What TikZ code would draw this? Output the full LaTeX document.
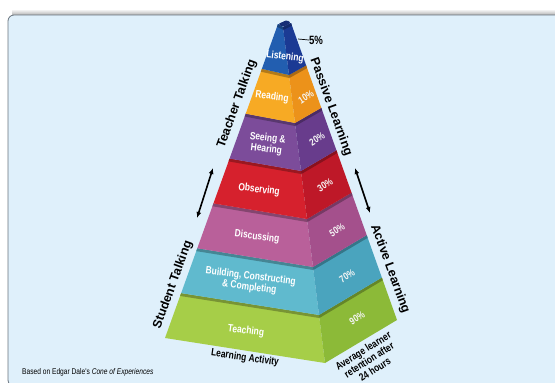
\documentclass[tikz,border=0pt]{standalone}
\usepackage{fontspec}
\setmainfont{Liberation Sans}
\newfontfamily\condfont[FakeStretch=0.8]{Liberation Sans}
\usetikzlibrary{calc,arrows.meta}

\definecolor{boxbg}{RGB}{223,240,251}
\definecolor{boxline}{RGB}{105,115,125}
\definecolor{listenF}{RGB}{34,94,176}
\definecolor{listenS}{RGB}{27,58,148}
\definecolor{readF}{RGB}{247,170,36}
\definecolor{readS}{RGB}{236,146,26}
\definecolor{seeF}{RGB}{124,76,154}
\definecolor{seeS}{RGB}{104,60,140}
\definecolor{obsF}{RGB}{214,33,45}
\definecolor{obsS}{RGB}{190,24,40}
\definecolor{discF}{RGB}{185,96,154}
\definecolor{discS}{RGB}{164,80,140}
\definecolor{buildF}{RGB}{96,186,206}
\definecolor{buildS}{RGB}{74,164,190}
\definecolor{teachF}{RGB}{166,206,72}
\definecolor{teachS}{RGB}{140,186,56}

\begin{document}
\begin{tikzpicture}[
  x=1pt, y=-1pt,
  act/.style={text=white, font=\condfont\bfseries\fontsize{10.5}{11}\selectfont, align=center, inner sep=0pt, rotate=-7},
  pct/.style={text=white!92!gray, font=\condfont\bfseries\fontsize{10}{10}\selectfont, inner sep=0pt, rotate=32},
  edgelabel/.style={font=\bfseries\fontsize{12.5}{13}\selectfont, inner sep=0pt},
  footlabel/.style={font=\condfont\bfseries\fontsize{10.5}{11}\selectfont, align=center, inner sep=0pt},
  arr/.style={{Latex[length=6pt,width=5pt]}-{Latex[length=6pt,width=5pt]}, line width=1.6pt}
]
\clip (0,0) rectangle (555,383);
% panel
\shade[top color=white, bottom color=black!30] (12,9) rectangle (555,15);
\filldraw[fill=boxbg, draw=boxline, line width=0.8pt, rounded corners=6pt] (8,15) rectangle (575,386);

% pyramid edges
\coordinate (L0) at (165,338); \coordinate (LA) at (278,24);
\coordinate (F0) at (325,363); \coordinate (FA) at (283,27);
\coordinate (R0) at (397,320); \coordinate (RA) at (291,23);

\foreach \i/\fc/\sc in {0/teachF/teachS,1/buildF/buildS,2/discF/discS,3/obsF/obsS,4/seeF/seeS,5/readF/readS,6/listenF/listenS}{
  \pgfmathsetmacro\ta{\i/7}
  \pgfmathsetmacro\tb{(\i+1)/7}
  \pgfmathsetmacro\tc{(\i+1)/7-0.009}
  \fill[fill=\fc] ($(L0)!\ta!(LA)$) -- ($(F0)!\ta!(FA)$) -- ($(F0)!\tb!(FA)$) -- ($(L0)!\tb!(LA)$) -- cycle;
  \fill[fill=\sc] ($(F0)!\ta!(FA)$) -- ($(R0)!\ta!(RA)$) -- ($(R0)!\tb!(RA)$) -- ($(F0)!\tb!(FA)$) -- cycle;
  \fill[fill=\fc!72!black] ($(L0)!\tc!(LA)$) -- ($(F0)!\tc!(FA)$) -- ($(F0)!\tb!(FA)$) -- ($(L0)!\tb!(LA)$) -- cycle;
  \fill[fill=\sc!72!black] ($(F0)!\tc!(FA)$) -- ($(R0)!\tc!(RA)$) -- ($(R0)!\tb!(RA)$) -- ($(F0)!\tb!(FA)$) -- cycle;
}
\fill[listenS!80!black, rounded corners=1.5pt] (LA) -- (FA) -- (RA) -- (287,20) -- cycle;

% activities
\node[act] (act0) at (246,331) {Teaching};
\node[act] (act1) at (250,282) {Building, Constructing\\\& Completing};
\node[act] (act2) at (257,237) {Discussing};
\node[act] (act3) at (259,190) {Observing};
\node[act] (act4) at (267,144) {Seeing \&\\Hearing};
\node[act] (act5) at (272,97) {Reading};
\node[act] (act6) at (285,57) {Listening};

% retention
\node[pct] (pct0) at (357,318) {90\%};
\node[pct] (pct1) at (347,276) {70\%};
\node[pct] (pct2) at (337,230) {50\%};
\node[pct] (pct3) at (325,185) {30\%};
\node[pct] (pct4) at (317,139) {20\%};
\node[pct] (pct5) at (306,97) {10\%};
\node[font=\condfont\bfseries\fontsize{12}{12}\selectfont, inner sep=0pt] (pct6) at (316,40) {5\%};
\coordinate (tick) at (298,39);
\draw[line width=0.7pt] (tick) -- (pct6.west);

% side labels
\node[edgelabel, rotate=70] (teacher) at (237,104) {Teacher Talking};
\node[edgelabel, rotate=-70] (passive) at (331,107) {Passive Learning};
\node[edgelabel, rotate=70] (student) at (173,285) {Student Talking};
\node[edgelabel, rotate=-70] (active) at (390,269) {Active Learning};
\node[footlabel, rotate=-8] (activity) at (245,358) {Learning Activity};
\node[footlabel, rotate=32] (retention) at (369,360) {Average learner\\retention after\\24 hours};
\node[font=\condfont\fontsize{8.3}{9}\selectfont, anchor=west, inner sep=0pt] (source) at (22,372) {Based on Edgar Dale's \textit{Cone of Experiences}};

\coordinate (lt) at (213,168); \coordinate (lb) at (197,218);
\coordinate (rt) at (355,168); \coordinate (rb) at (370,213);
\draw[arr] (lt) -- (lb);
\draw[arr] (rt) -- (rb);
\end{tikzpicture}
\end{document}
